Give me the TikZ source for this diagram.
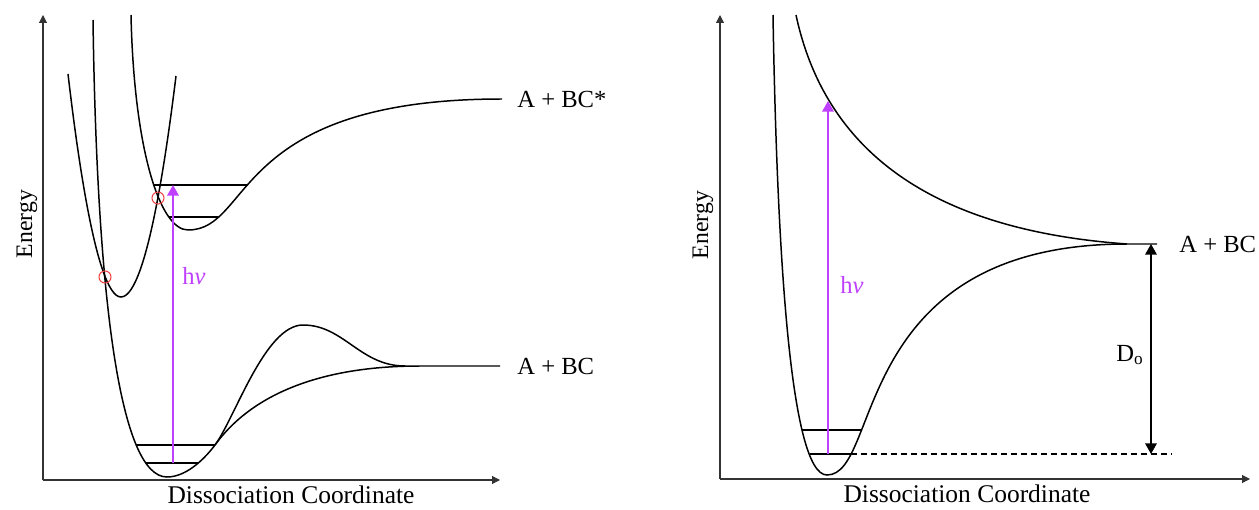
\documentclass[tikz,border=0pt]{standalone}
\usepackage{fontspec}
\setmainfont{Liberation Serif}
\usetikzlibrary{arrows.meta}
\definecolor{photon}{RGB}{191,64,255}
\definecolor{cross}{RGB}{238,64,64}
\tikzset{
  pes/.style={line width=0.85pt, black},
  axis/.style={line width=0.6pt, black!80, -{Triangle[length=4.5pt, width=4.5pt]}},
  level/.style={line width=0.8pt},
  photonarrow/.style={line width=0.9pt, photon, -{Triangle[length=6pt, width=6.5pt]}},
  dzero/.style={line width=0.9pt, {Triangle[length=6pt, width=6.5pt]}-{Triangle[length=6pt, width=6.5pt]}},
  lab/.style={font=\fontsize{14}{16}\selectfont, inner sep=0pt},
  title/.style={font=\fontsize{14.5}{17}\selectfont, inner sep=0pt},
  hv/.style={lab, text=photon, anchor=west},
  hit/.style={circle, draw=cross, line width=0.6pt, minimum size=0.24cm, inner sep=0pt},
}

\begin{document}
\begin{tikzpicture}[x=0.02cm, y=-0.02cm]
  \useasboundingbox (0,0) rectangle (1259,510);

  % left panel
  \coordinate (lo) at (43,480);
  \coordinate (ly) at (43,15);
  \coordinate (lx) at (500,480);
  \draw[axis] (lo) -- (ly);
  \draw[axis] (lo) -- (lx);
  \node[title, font=\fontsize{13.5}{16}\selectfont, rotate=90] (lE) at (27,224) {Energy};
  \node[title] (lD) at (291,495) {Dissociation Coordinate};

  \coordinate (gmin) at (167,477);
  \coordinate (gj) at (215,445);
  \coordinate (gtop) at (303,325);
  \draw[pes] (93,20) .. controls (97,300) and (120,477) .. (gmin)
    .. controls (185,477) and (203,461) .. (gj)
    .. controls (232,422) and (280,366) .. (420,366) -- (500,366);
  \draw[pes] (gj) .. controls (235,418) and (265,325) .. (gtop)
    .. controls (343.8,325) and (360,366) .. (405,366);
  \draw[pes] (68,74) parabola bend (121,297) (176,76);
  \draw[pes] (131,15) .. controls (134,150) and (160,230) .. (188,230)
    .. controls (252.6,230) and (230.7,99) .. (502,99);

  \coordinate (g1a) at (136,445); \coordinate (g1b) at (215,445);
  \coordinate (g0a) at (146,463); \coordinate (g0b) at (198,463);
  \coordinate (e1a) at (154,185); \coordinate (e1b) at (248,185);
  \coordinate (e0a) at (169,217); \coordinate (e0b) at (218,217);
  \draw[level] (g1a) -- (g1b);
  \draw[level] (g0a) -- (g0b);
  \draw[level] (e1a) -- (e1b);
  \draw[level] (e0a) -- (e0b);

  \node[hit] (c1) at (105,277) {};
  \node[hit] (c2) at (158,198) {};

  \coordinate (lv0) at (173,463);
  \coordinate (lv1) at (173,185);
  \draw[photonarrow] (lv0) -- (lv1);
  \node[hv] (lhv) at (182,276) {h\textit{ν}};

  \node[lab, anchor=west] (lstar) at (517,99) {A + BC*};
  \node[lab, anchor=west] (lbc) at (517,366) {A + BC};

  % right panel
  \coordinate (ro) at (720,479);
  \coordinate (ry) at (720,15);
  \coordinate (rx) at (1250,479);
  \draw[axis] (ro) -- (ry);
  \draw[axis] (ro) -- (rx);
  \node[title, font=\fontsize{13.5}{16}\selectfont, rotate=90] (rE) at (703,225) {Energy};
  \node[title] (rD) at (967,494) {Dissociation Coordinate};

  \coordinate (rmin) at (827,475);
  \coordinate (rasym) at (1127,244);
  \draw[pes] (773,15) .. controls (777,250) and (790,475) .. (rmin)
    .. controls (882,475) and (849,244) .. (rasym) -- (1157,244);
  \draw[pes] (796,15) .. controls (825,150) and (930,230) .. (rasym);

  \coordinate (r1a) at (802,430); \coordinate (r1b) at (862,430);
  \coordinate (r0a) at (810,454); \coordinate (r0b) at (851,454);
  \coordinate (rdash) at (1172,454);
  \draw[level] (r1a) -- (r1b);
  \draw[level] (r0a) -- (r0b);
  \draw[line width=0.6pt, dash pattern=on 3.4pt off 2.3pt] (r0b) -- (rdash);

  \coordinate (rv0) at (828,454);
  \coordinate (rv1) at (828,101);
  \draw[photonarrow] (rv0) -- (rv1);
  \node[hv] (rhv) at (840,285) {h\textit{ν}};

  \coordinate (dtop) at (1151,244);
  \coordinate (dbot) at (1151,454);
  \draw[dzero] (dtop) -- (dbot);
  \node[lab] (dlab) at (1130,355) {D\textsubscript{o}};
  \node[lab, anchor=west] (rbc) at (1179,244) {A + BC};
\end{tikzpicture}
\end{document}
